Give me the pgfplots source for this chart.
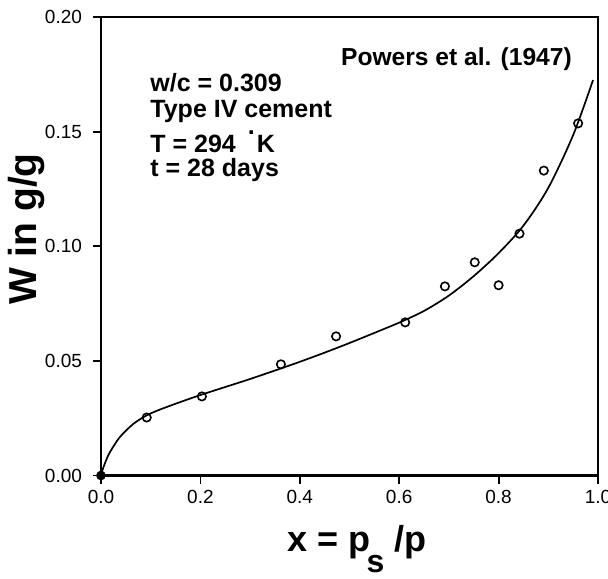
\documentclass[border=0pt]{standalone}
\usepackage{fontspec}
\setmainfont{Liberation Sans}
\usepackage{pgfplots}
\pgfplotsset{compat=1.18}
\begin{document}
\begin{tikzpicture}
\path[use as bounding box] (-50.5pt,-51.25pt) rectangle (253.5pt,237.75pt);
\begin{axis}[
  at={(0pt,0pt)}, anchor=south west,
  scale only axis, width=248.5pt, height=229.25pt,
  xmin=0, xmax=1, ymin=0, ymax=0.2,
  xtick={0,0.2,0.4,0.6,0.8,1.0},
  ytick={0,0.05,0.10,0.15,0.20},
  tick align=outside, tick pos=left, major tick length=4pt,
  axis line style={line width=1.3pt},
  every tick/.style={line width=0.9pt, black},
  /pgf/number format/assume math mode=true,
  tick label style={font=\fontsize{9.5}{10}\selectfont},
  xticklabel={\pgfmathprintnumber[fixed,fixed zerofill,precision=1]{\tick}},
  yticklabel={\pgfmathprintnumber[fixed,fixed zerofill,precision=2]{\tick}},
  yticklabel style={xshift=-2pt},
  xlabel={x = p\hspace{-2pt}\raisebox{-10.5pt}{\fontsize{16}{16}\selectfont s}\hspace{5pt}/p},
  xlabel style={font=\fontsize{18}{18}\selectfont\bfseries, at={(axis description cs:0.515,-0.166)}, anchor=base},
  ylabel={W in g/g},
  ylabel style={font=\fontsize{19.5}{19.5}\selectfont\bfseries, at={(axis description cs:-0.1294,0.5376)}, anchor=base, rotate=0},
  clip=false,
]
\addplot[smooth, tension=0.5, line width=0.85pt, black] coordinates {
(0,0) (0.004,0.0030) (0.010,0.0065) (0.018,0.0102) (0.038,0.0168)
(0.065,0.0225) (0.090,0.0260) (0.112,0.0282) (0.150,0.0313)
(0.200,0.0351) (0.250,0.0386) (0.300,0.0421) (0.350,0.0458)
(0.400,0.0496) (0.450,0.0536) (0.500,0.0578) (0.550,0.0622)
(0.600,0.0667) (0.650,0.0718) (0.700,0.0785) (0.750,0.0870)
(0.800,0.0970) (0.850,0.1090) (0.900,0.1255) (0.950,0.1485)
(0.990,0.1725)
};
\addplot[only marks, mark=o, mark size=2.1pt, mark options={line width=0.8pt, black}] coordinates {
(0.092,0.0253) (0.203,0.0345) (0.362,0.0485) (0.473,0.0607)
(0.612,0.0668) (0.692,0.0825) (0.752,0.0930) (0.800,0.0830)
(0.842,0.1055) (0.891,0.1330) (0.960,0.1536)
};
\addplot[only marks, mark=*, mark size=2.2pt, black] coordinates {(0,0)};
\node[anchor=base east, font=\fontsize{12.3}{12.3}\selectfont\bfseries, inner sep=0pt] at (axis cs:0.948,0.179) {Powers et al. (1947)};
\node[anchor=base west, font=\fontsize{12.5}{12.5}\selectfont\bfseries, inner sep=0pt] at (axis cs:0.0986,0.1673) {w/c = 0.309};
\node[anchor=base west, font=\fontsize{12.5}{12.5}\selectfont\bfseries, inner sep=0pt] at (axis cs:0.0986,0.1560) {Type IV cement};
\node[anchor=base west, font=\fontsize{12.5}{12.5}\selectfont\bfseries, inner sep=0pt] at (axis cs:0.0986,0.1407) {T = 294\hspace{6pt}\raisebox{9pt}{.}\hspace{1pt}K};
\node[anchor=base west, font=\fontsize{12.5}{12.5}\selectfont\bfseries, inner sep=0pt] at (axis cs:0.0986,0.1305) {t = 28 days};
\end{axis}
\end{tikzpicture}
\end{document}
